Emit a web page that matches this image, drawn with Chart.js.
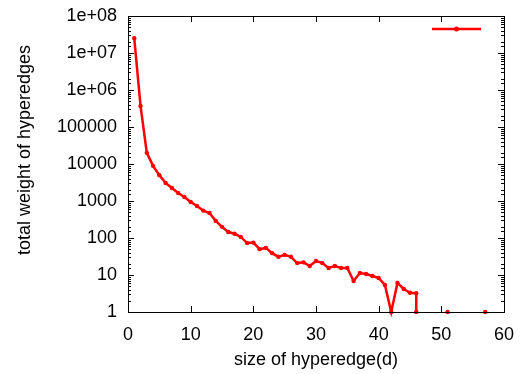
<!DOCTYPE html>
<html>
<head>
<meta charset="utf-8">
<script src="https://cdn.jsdelivr.net/npm/chart.js@4.4.0/dist/chart.umd.min.js"></script>
<style>
  html, body { margin: 0; padding: 0; background: #fff; }
  #wrap { width: 522px; height: 374px; }
</style>
</head>
<body>
<div id="wrap"><canvas id="graf"></canvas></div>
<script>
// hyperedge size vs total weight (log y)
const sizes = [1, 2, 3, 4, 5, 6, 7, 8, 9, 10,
  11, 12, 13, 14, 15, 16, 17, 18, 19, 20,
  21, 22, 23, 24, 25, 26, 27, 28, 29, 30,
  31, 32, 33, 34, 35, 36, 37, 38, 39, 40,
  41, 42, 43, 44, 45, 46, 46, 47, 51, 52, 57];
const weights = [2.5e7, 3.7e5, 2.0e4, 8900, 5000, 3070, 2240, 1650, 1280, 940,
  730, 550, 475, 290, 200, 145, 130, 107, 73, 75,
  50, 54, 39, 31, 35, 31, 21, 22, 17.5, 24,
  21, 15.5, 17.5, 15.5, 15.5, 6.9, 11.3, 10.6, 9.4, 8.3,
  5.4, 1, 6.1, 4.2, 3.3, 3.2, 1, null, 1, null, 1];

const xTicks = [0, 10, 20, 30, 40, 50, 60];
const yTickLabels = ['1', '10', '100', '1000', '10000', '100000', '1e+06', '1e+07', '1e+08'];

const xTitle = 'size of hyperedge(d)';
const yTitle = 'total weight of hyperedges';

const font = 'Liberation Sans, Arial, sans-serif';

const points = sizes.map((s, i) => ({ x: s, y: weights[i] }));

const rammePlugin = {
  id: 'ramme',
  afterDraw(chart) {
    const ctx = chart.ctx;
    const a = chart.chartArea;
    const xs = chart.scales.x;
    const ys = chart.scales.y;
    ctx.save();
    ctx.strokeStyle = '#000';
    ctx.lineWidth = 1;
    ctx.strokeRect(a.left + 0.5, a.top + 0.5, a.right - a.left, a.bottom - a.top);

    ctx.beginPath();
    xs.ticks.forEach(t => {
      const px = Math.round(xs.getPixelForValue(t.value)) + 0.5;
      ctx.moveTo(px, a.bottom); ctx.lineTo(px, a.bottom - 6);
      ctx.moveTo(px, a.top); ctx.lineTo(px, a.top + 6);
    });
    ys.ticks.forEach(t => {
      const lg = Math.log10(t.value);
      const len = Math.abs(lg - Math.round(lg)) < 1e-9 ? 6 : 3;
      const py = Math.round(ys.getPixelForValue(t.value)) + 0.5;
      ctx.moveTo(a.left, py); ctx.lineTo(a.left + len, py);
      ctx.moveTo(a.right, py); ctx.lineTo(a.right - len, py);
    });
    ctx.stroke();

    // titles
    ctx.fillStyle = '#000';
    ctx.font = '18px ' + font;
    ctx.textAlign = 'center';
    ctx.textBaseline = 'middle';
    ctx.fillText(xTitle, (a.left + a.right) / 2, 360);
    ctx.translate(25, 150);
    ctx.rotate(-Math.PI / 2);
    ctx.fillText(yTitle, 0, 0);
    ctx.restore();

    // legend sample (no label)
    const ds = chart.data.datasets[0];
    ctx.save();
    ctx.strokeStyle = ds.borderColor;
    ctx.lineWidth = ds.borderWidth;
    ctx.beginPath();
    ctx.moveTo(432, 29); ctx.lineTo(481, 29);
    ctx.stroke();
    ctx.fillStyle = ds.borderColor;
    ctx.beginPath();
    ctx.arc(456.5, 29, 2.5, 0, Math.PI * 2);
    ctx.fill();
    ctx.restore();
  }
};

const graf = new Chart(document.getElementById('graf'), {
  type: 'line',
  data: {
    datasets: [{
      label: '',
      data: points,
      borderColor: '#ff0000',
      backgroundColor: '#ff0000',
      borderWidth: 2.5,
      pointRadius: 2.2,
      pointBorderWidth: 0,
      pointBackgroundColor: '#ff0000',
      tension: 0,
      spanGaps: false,
      clip: false
    }]
  },
  options: {
    responsive: true,
    maintainAspectRatio: false,
    animation: false,
    layout: { padding: { left: 0, top: 16, right: 18, bottom: 0 } },
    plugins: { legend: { display: false }, tooltip: { enabled: false } },
    scales: {
      x: {
        type: 'linear',
        min: 0,
        max: 60,
        afterBuildTicks: s => { s.ticks = xTicks.map(v => ({ value: v })); },
        afterFit: s => { s.height = 62; s.paddingLeft = 0; s.paddingRight = 0; },
        grid: { display: false, drawTicks: false },
        border: { display: false },
        ticks: {
          padding: 12,
          minRotation: 0,
          maxRotation: 0,
          color: '#000',
          font: { family: font, size: 18 },
          callback: v => String(v)
        }
      },
      y: {
        type: 'logarithmic',
        min: 1,
        max: 1e8,
        afterFit: s => { s.width = 128; s.paddingTop = 0; s.paddingBottom = 0; },
        grid: { display: false, drawTicks: false },
        border: { display: false },
        ticks: {
          autoSkip: false,
          padding: 11,
          color: '#000',
          font: { family: font, size: 18 },
          callback: v => {
            const lg = Math.log10(v);
            if (Math.abs(lg - Math.round(lg)) > 1e-9) return '';
            return yTickLabels[Math.round(lg)];
          }
        }
      }
    }
  },
  plugins: [rammePlugin]
});
</script>
</body>
</html>
